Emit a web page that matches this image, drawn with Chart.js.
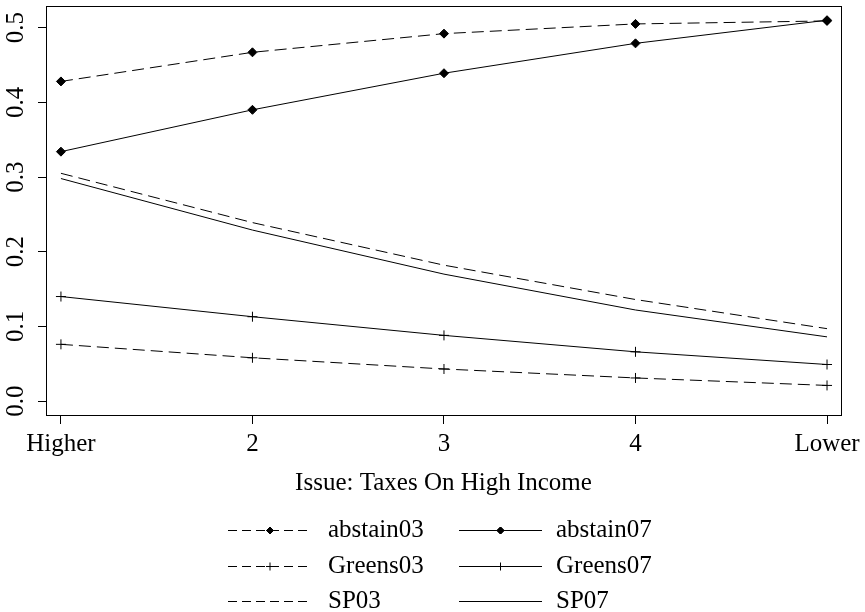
<!DOCTYPE html>
<html>
<head>
<meta charset="utf-8">
<script src="https://cdn.jsdelivr.net/npm/chart.js@4.4.1/dist/chart.umd.min.js"></script>
<style>
  html, body { margin: 0; padding: 0; background: #fff; }
  #wrap { width: 865px; height: 612px; position: relative; }
</style>
</head>
<body>
<div id="wrap"><canvas id="c" width="865" height="612"></canvas></div>
<script>
// ---- data ----
const categories = ['Higher', '2', '3', '4', 'Lower'];
const yTicks = [0.0, 0.1, 0.2, 0.3, 0.4, 0.5];
const abstain03 = [0.428, 0.467, 0.492, 0.505, 0.509];
const abstain07 = [0.334, 0.390, 0.439, 0.479, 0.510];
const greens03  = [0.076, 0.058, 0.043, 0.031, 0.021];
const greens07  = [0.140, 0.113, 0.088, 0.066, 0.049];
const sp03      = [0.305, 0.239, 0.182, 0.136, 0.097];
const sp07      = [0.298, 0.229, 0.170, 0.122, 0.086];
const xTitle = 'Issue: Taxes On High Income';

const FONT = "'Liberation Serif', 'Times New Roman', serif";
const FS = 25;
const DASH = [12, 6];

function pts(arr) { return arr.map((v, i) => ({ x: i, y: v })); }
function ds(label, arr, dashed, marker) {
  return {
    label, data: pts(arr),
    borderColor: '#000', backgroundColor: '#000', borderWidth: 1,
    borderDash: dashed ? DASH : [],
    pointStyle: marker === 'diamond' ? 'rectRot' : (marker === 'plus' ? 'cross' : false),
    pointRadius: marker ? (marker === 'diamond' ? 4.5 : 5) : 0,
    pointBorderWidth: 1,
    pointBorderColor: '#000', pointBackgroundColor: '#000',
    tension: 0, clip: false, fill: false,
    _dashed: dashed, _marker: marker
  };
}

const datasets = [
  ds('abstain03', abstain03, true, 'diamond'),
  ds('abstain07', abstain07, false, 'diamond'),
  ds('Greens03', greens03, true, 'plus'),
  ds('Greens07', greens07, false, 'plus'),
  ds('SP03', sp03, true, null),
  ds('SP07', sp07, false, null)
];

const boxPlugin = {
  id: 'box',
  afterDatasetsDraw(chart) {
    const { ctx, chartArea: a } = chart;
    ctx.save();
    ctx.strokeStyle = '#000';
    ctx.lineWidth = 1;
    ctx.setLineDash([]);
    ctx.strokeRect(Math.round(a.left) + 0.5, Math.round(a.top) + 0.5,
                   Math.round(a.right - a.left), Math.round(a.bottom - a.top));
    ctx.restore();
  }
};

const legendPlugin = {
  id: 'rlegend',
  afterDraw(chart) {
    const { ctx } = chart;
    const cols = [{ x0: 228, x1: 312, tx: 328 }, { x0: 459, x1: 542, tx: 556 }];
    const rows = [530, 566, 601];
    ctx.save();
    chart.data.datasets.forEach((d, i) => {
      const c = cols[i % 2], y = rows[Math.floor(i / 2)] + 0.5;
      ctx.strokeStyle = '#000';
      ctx.lineWidth = 1;
      ctx.setLineDash(d._dashed ? [9, 5] : []);
      ctx.beginPath(); ctx.moveTo(c.x0, y); ctx.lineTo(c.x1, y); ctx.stroke();
      ctx.setLineDash([]);
      const mx = (c.x0 + c.x1) / 2;
      if (d._marker === 'diamond') {
        Chart.helpers.drawPoint(ctx, { pointStyle: 'rectRot', radius: 3.5, borderWidth: 1 }, mx, y);
        ctx.fillStyle = '#000';
        ctx.beginPath();
        ctx.moveTo(mx, y - 3.5); ctx.lineTo(mx + 3.5, y); ctx.lineTo(mx, y + 3.5); ctx.lineTo(mx - 3.5, y); ctx.closePath();
        ctx.fill(); ctx.stroke();
      } else if (d._marker === 'plus') {
        ctx.beginPath();
        ctx.moveTo(mx - 4, y); ctx.lineTo(mx + 4, y);
        ctx.moveTo(mx, y - 4); ctx.lineTo(mx, y + 4);
        ctx.stroke();
      }
      ctx.fillStyle = '#000';
      ctx.font = FS + 'px ' + FONT;
      ctx.textAlign = 'left';
      ctx.textBaseline = 'middle';
      ctx.fillText(d.label, c.tx, rows[Math.floor(i / 2)]);
    });
    ctx.restore();
  }
};

new Chart(document.getElementById('c'), {
  type: 'line',
  data: { datasets },
  plugins: [boxPlugin, legendPlugin],
  options: {
    responsive: false,
    animation: false,
    devicePixelRatio: 1,
    layout: { padding: { top: 3, right: 24, left: 0, bottom: 0 } },
    plugins: { legend: { display: false }, tooltip: { enabled: false } },
    scales: {
      x: {
        type: 'linear', min: -0.078, max: 4.073,
        afterBuildTicks(s) { s.ticks = categories.map((_, i) => ({ value: i })); },
        afterFit(s) { s.height = 197; s.paddingLeft = 0; s.paddingRight = 0; },
        ticks: {
          callback: v => categories[v],
          font: { family: FONT, size: FS }, color: '#000',
          padding: 5, maxRotation: 0, minRotation: 0, autoSkip: false
        },
        grid: { drawOnChartArea: false, drawTicks: true, tickLength: 9, color: '#000', lineWidth: 1 },
        border: { display: false },
        title: {
          display: true, text: xTitle, color: '#000',
          font: { family: FONT, size: FS, lineHeight: 1.2 },
          padding: { top: 0, bottom: 114 }
        }
      },
      y: {
        min: -0.0186, max: 0.529,
        afterBuildTicks(s) { s.ticks = yTicks.map(v => ({ value: v })); },
        afterFit(s) { s.width = 46; s.paddingTop = 0; s.paddingBottom = 0; },
        ticks: {
          callback: v => v.toFixed(1),
          font: { family: FONT, size: FS }, color: '#000',
          minRotation: 90, maxRotation: 90, crossAlign: 'center', padding: 6
        },
        grid: { drawOnChartArea: false, drawTicks: true, tickLength: 8, color: '#000', lineWidth: 1 },
        border: { display: false }
      }
    }
  }
});
</script>
</body>
</html>
